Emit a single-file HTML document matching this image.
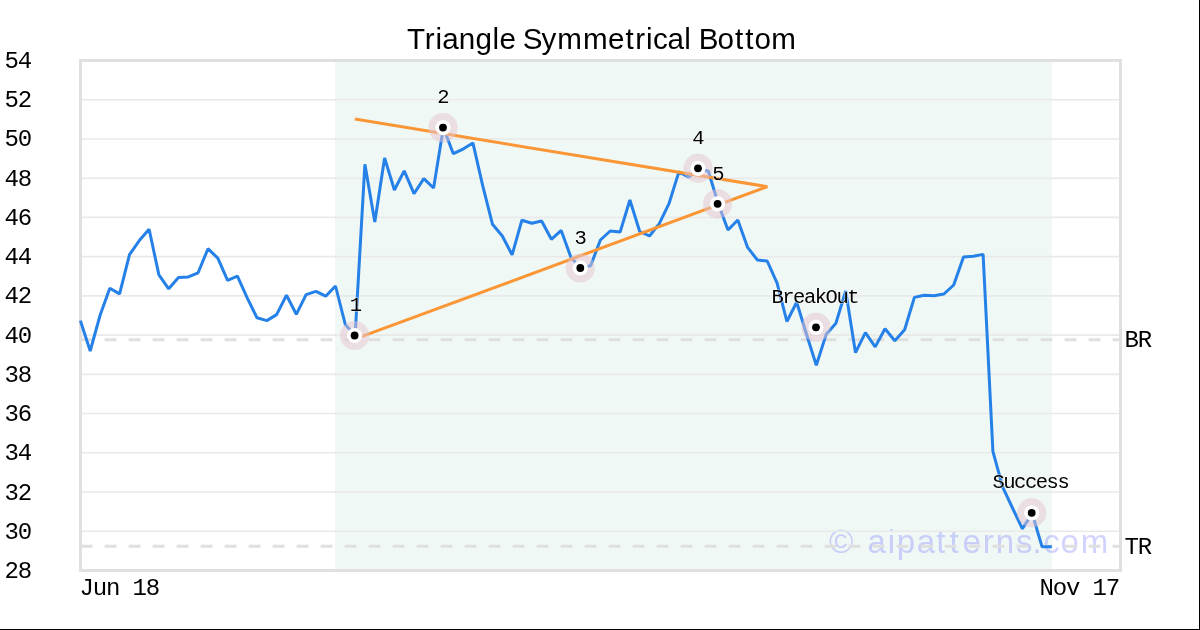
<!DOCTYPE html>
<html><head><meta charset="utf-8">
<style>
html,body{margin:0;padding:0;background:#fff;}
body{width:1200px;height:630px;overflow:hidden;position:relative;}
svg{display:block;position:absolute;left:0;top:0;will-change:transform;}
</style></head><body>
<svg width="1200" height="630" viewBox="0 0 1200 630">
<rect x="0" y="0" width="1200" height="630" fill="#ffffff"/>
<rect x="1199" y="0" width="1" height="630" fill="#000"/>
<rect x="0" y="629" width="1200" height="1" fill="#000"/>
<rect x="335" y="62" width="716.8" height="507" fill="#f0f8f5"/>
<text x="829.10 856.00 867.50 887.79 896.77 916.80 936.30 949.50 962.50 982.81 995.71 1015.88 1032.39 1043.20 1060.41 1080.71" y="553.00" font-family="'Liberation Sans', sans-serif" font-size="33" fill="rgba(80,80,255,0.25)">© aipatterns.com</text>
<g stroke="#e9e9e9" stroke-width="1.6"><line x1="82" y1="531.26" x2="1119" y2="531.26"/><line x1="82" y1="492.03" x2="1119" y2="492.03"/><line x1="82" y1="452.80" x2="1119" y2="452.80"/><line x1="82" y1="413.57" x2="1119" y2="413.57"/><line x1="82" y1="374.34" x2="1119" y2="374.34"/><line x1="82" y1="335.11" x2="1119" y2="335.11"/><line x1="82" y1="295.88" x2="1119" y2="295.88"/><line x1="82" y1="256.65" x2="1119" y2="256.65"/><line x1="82" y1="217.42" x2="1119" y2="217.42"/><line x1="82" y1="178.19" x2="1119" y2="178.19"/><line x1="82" y1="138.96" x2="1119" y2="138.96"/><line x1="82" y1="99.73" x2="1119" y2="99.73"/></g>
<g stroke="#dfdfdf" stroke-width="3" stroke-dasharray="11.8 12.2">
<line x1="80.6" y1="339.7" x2="1119" y2="339.7"/>
<line x1="80.6" y1="546.3" x2="1119" y2="546.3"/>
</g>
<rect x="80.5" y="60.5" width="1040" height="510" fill="none" stroke="#e0e0e0" stroke-width="3"/>
<polyline points="80.4,320.6 90.2,351.0 100.0,315.5 109.8,288.3 119.6,293.9 129.5,254.6 139.3,240.6 149.1,229.2 158.9,274.9 168.7,288.8 178.5,277.4 188.3,276.9 198.1,272.8 208.0,248.7 217.8,258.2 227.6,280.3 237.4,276.2 247.2,297.8 257.0,317.8 266.8,320.6 276.6,314.6 286.5,295.2 296.3,314.3 306.1,294.6 315.9,291.4 325.7,296.2 335.5,286.0 345.3,324.5 355.1,335.5 364.9,164.3 374.8,222.0 384.6,158.0 394.4,190.0 404.2,170.9 414.0,193.7 423.8,178.6 433.6,188.0 443.4,127.6 453.3,153.7 463.1,149.1 472.9,142.9 482.7,185.7 492.5,224.3 502.3,236.0 512.1,254.8 521.9,220.2 531.8,223.3 541.6,221.0 551.4,239.3 561.2,230.4 571.0,257.5 580.8,268.0 590.6,265.8 600.4,240.0 610.2,231.0 620.1,232.1 629.9,200.0 639.7,231.5 649.5,236.0 659.3,223.6 669.1,203.3 678.9,171.9 688.7,177.1 698.6,168.3 708.4,171.2 718.2,203.8 728.0,230.0 737.8,220.0 747.6,247.4 757.4,260.0 767.2,261.0 777.1,283.1 786.9,321.5 796.7,302.3 806.5,334.3 816.3,365.2 826.1,334.6 835.9,323.3 845.7,291.0 855.5,352.7 865.4,332.7 875.2,346.9 885.0,328.7 894.8,340.7 904.6,329.7 914.4,297.4 924.2,295.3 934.0,295.7 943.9,294.0 953.7,285.0 963.5,257.0 973.3,256.3 983.1,254.4 992.9,451.4 1002.7,487.1 1012.5,508.0 1022.4,528.8 1032.2,513.5 1042.0,546.7 1051.8,546.7" fill="none" stroke="#2581e8" stroke-width="3" stroke-linejoin="bevel"/>
<g stroke="#fa9636" stroke-width="3" fill="none">
<line x1="354.9" y1="119.1" x2="767.4" y2="186.7"/>
<line x1="354.6" y1="339.2" x2="767.4" y2="186.7"/>
</g>
<g fill="rgba(228,195,208,0.5)"><circle cx="354.6" cy="335.5" r="14.6"/><circle cx="443.0" cy="127.6" r="14.6"/><circle cx="580.3" cy="268.0" r="14.6"/><circle cx="698.0" cy="168.3" r="14.6"/><circle cx="717.6" cy="203.8" r="14.6"/><circle cx="816.0" cy="327.3" r="14.6"/><circle cx="1031.7" cy="512.8" r="14.6"/></g>
<g fill="#fff"><circle cx="354.6" cy="335.5" r="7.6"/><circle cx="443.0" cy="127.6" r="7.6"/><circle cx="580.3" cy="268.0" r="7.6"/><circle cx="698.0" cy="168.3" r="7.6"/><circle cx="717.6" cy="203.8" r="7.6"/><circle cx="816.0" cy="327.3" r="7.6"/><circle cx="1031.7" cy="512.8" r="7.6"/></g>
<g fill="#000"><circle cx="354.6" cy="335.5" r="3.9"/><circle cx="443.0" cy="127.6" r="3.9"/><circle cx="580.3" cy="268.0" r="3.9"/><circle cx="698.0" cy="168.3" r="3.9"/><circle cx="717.6" cy="203.8" r="3.9"/><circle cx="816.0" cy="327.3" r="3.9"/><circle cx="1031.7" cy="512.8" r="3.9"/></g>
<text x="349.75" y="310.80" font-family="'Liberation Mono', monospace" font-size="20.5" fill="#000" stroke="rgba(255,255,255,0.7)" stroke-width="1.2" paint-order="stroke" stroke-linejoin="round">1</text><text x="437.35" y="102.90" font-family="'Liberation Mono', monospace" font-size="20.5" fill="#000" stroke="rgba(255,255,255,0.7)" stroke-width="1.2" paint-order="stroke" stroke-linejoin="round">2</text><text x="574.45" y="243.90" font-family="'Liberation Mono', monospace" font-size="20.5" fill="#000" stroke="rgba(255,255,255,0.7)" stroke-width="1.2" paint-order="stroke" stroke-linejoin="round">3</text><text x="692.15" y="144.30" font-family="'Liberation Mono', monospace" font-size="20.5" fill="#000" stroke="rgba(255,255,255,0.7)" stroke-width="1.2" paint-order="stroke" stroke-linejoin="round">4</text><text x="712.35" y="179.50" font-family="'Liberation Mono', monospace" font-size="20.5" fill="#000" stroke="rgba(255,255,255,0.7)" stroke-width="1.2" paint-order="stroke" stroke-linejoin="round">5</text><text x="771.42 782.26 793.09 803.93 814.77 825.60 836.44 847.28" y="302.50" font-family="'Liberation Mono', monospace" font-size="20.5" fill="#000" stroke="rgba(255,255,255,0.7)" stroke-width="1.2" paint-order="stroke" stroke-linejoin="round">BreakOut</text><text x="992.44 1003.28 1014.11 1024.95 1035.79 1046.62 1057.46" y="487.60" font-family="'Liberation Mono', monospace" font-size="20.5" fill="#000" stroke="rgba(255,255,255,0.7)" stroke-width="1.2" paint-order="stroke" stroke-linejoin="round">Success</text>
<text x="4.42 17.67" y="577.99" font-family="'Liberation Mono', monospace" font-size="24" fill="#000" >28</text><text x="4.42 17.67" y="538.76" font-family="'Liberation Mono', monospace" font-size="24" fill="#000" >30</text><text x="4.42 17.67" y="499.53" font-family="'Liberation Mono', monospace" font-size="24" fill="#000" >32</text><text x="4.42 17.67" y="460.30" font-family="'Liberation Mono', monospace" font-size="24" fill="#000" >34</text><text x="4.42 17.67" y="421.07" font-family="'Liberation Mono', monospace" font-size="24" fill="#000" >36</text><text x="4.42 17.67" y="381.84" font-family="'Liberation Mono', monospace" font-size="24" fill="#000" >38</text><text x="4.42 17.67" y="342.61" font-family="'Liberation Mono', monospace" font-size="24" fill="#000" >40</text><text x="4.42 17.67" y="303.38" font-family="'Liberation Mono', monospace" font-size="24" fill="#000" >42</text><text x="4.42 17.67" y="264.15" font-family="'Liberation Mono', monospace" font-size="24" fill="#000" >44</text><text x="4.42 17.67" y="224.92" font-family="'Liberation Mono', monospace" font-size="24" fill="#000" >46</text><text x="4.42 17.67" y="185.69" font-family="'Liberation Mono', monospace" font-size="24" fill="#000" >48</text><text x="4.42 17.67" y="146.46" font-family="'Liberation Mono', monospace" font-size="24" fill="#000" >50</text><text x="4.42 17.67" y="107.23" font-family="'Liberation Mono', monospace" font-size="24" fill="#000" >52</text><text x="4.42 17.67" y="68.00" font-family="'Liberation Mono', monospace" font-size="24" fill="#000" >54</text>
<text x="1124.42 1137.67" y="346.70" font-family="'Liberation Mono', monospace" font-size="24" fill="#000" >BR</text>
<text x="1124.42 1137.67" y="553.60" font-family="'Liberation Mono', monospace" font-size="24" fill="#000" >TR</text>
<text x="79.62 92.87 106.11 119.36 132.60 145.85" y="594.50" font-family="'Liberation Mono', monospace" font-size="24" fill="#000" >Jun 18</text>
<text x="1039.42 1052.67 1065.91 1079.16 1092.40 1105.65" y="594.50" font-family="'Liberation Mono', monospace" font-size="24" fill="#000" >Nov 17</text>
<text x="407.04 424.67 435.42 442.25 458.74 475.52 492.53 499.40 515.86 522.69 541.39 557.17 582.93 608.05 625.49 635.30 646.05 652.88 667.43 684.15 691.20 698.72 717.52 734.92 745.29 754.45 771.32" y="49.20" font-family="'Liberation Sans', sans-serif" font-size="29.6" fill="#000">Triangle Symmetrical Bottom</text>
</svg>
</body></html>
